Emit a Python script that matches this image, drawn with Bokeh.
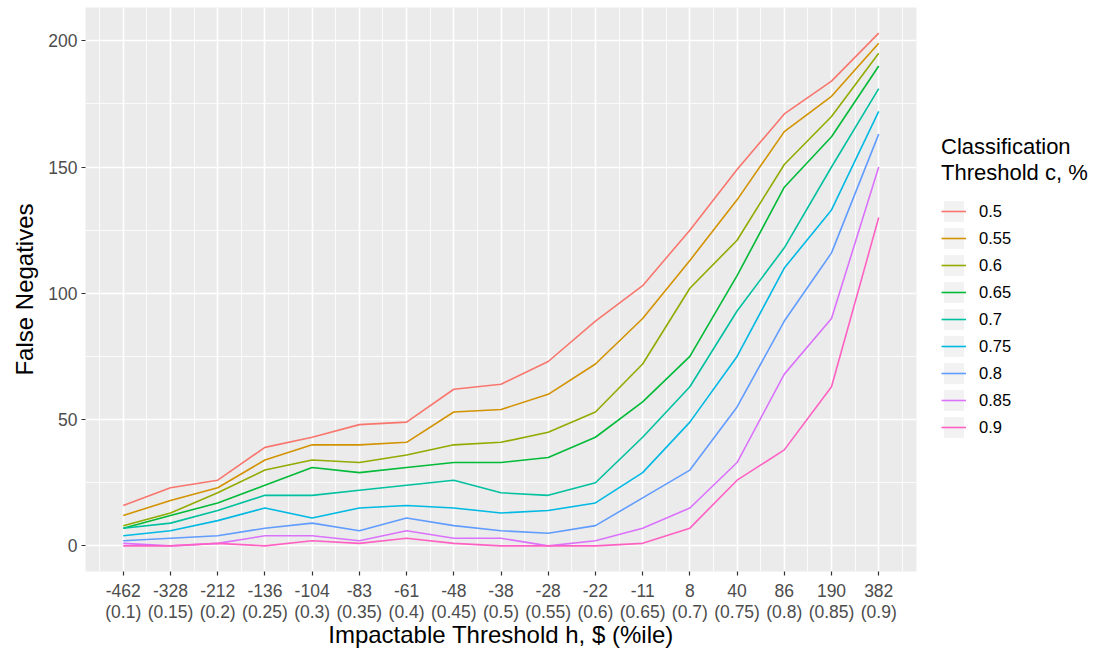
from bokeh.plotting import figure
from bokeh.models import Range1d, FixedTicker, Legend, LegendItem, ColumnDataSource
from bokeh.embed import file_html
from bokeh.resources import INLINE

# ---- data ----
h_labels = ["-462", "-328", "-212", "-136", "-104", "-83", "-61", "-48", "-38",
            "-28", "-22", "-11", "8", "40", "86", "190", "382"]
pct_labels = ["0.1", "0.15", "0.2", "0.25", "0.3", "0.35", "0.4", "0.45", "0.5",
              "0.55", "0.6", "0.65", "0.7", "0.75", "0.8", "0.85", "0.9"]
c_levels = ["0.5", "0.55", "0.6", "0.65", "0.7", "0.75", "0.8", "0.85", "0.9"]

fn_050 = [16, 23, 26, 39, 43, 48, 49, 62, 64, 73, 89, 103, 125, 149, 171, 184, 203]
fn_055 = [12, 18, 23, 34, 40, 40, 41, 53, 54, 60, 72, 90, 113, 137, 164, 178, 199]
fn_060 = [8, 13, 21, 30, 34, 33, 36, 40, 41, 45, 53, 72, 102, 121, 151, 170, 195]
fn_065 = [7, 12, 17, 24, 31, 29, 31, 33, 33, 35, 43, 57, 75, 107, 142, 162, 190]
fn_070 = [7, 9, 14, 20, 20, 22, 24, 26, 21, 20, 25, 43, 63, 93, 118, 150, 181]
fn_075 = [4, 6, 10, 15, 11, 15, 16, 15, 13, 14, 17, 29, 49, 75, 110, 133, 172]
fn_080 = [2, 3, 4, 7, 9, 6, 11, 8, 6, 5, 8, 19, 30, 55, 89, 116, 163]
fn_085 = [1, 0, 1, 4, 4, 2, 6, 3, 3, 0, 2, 7, 15, 33, 68, 90, 150]
fn_090 = [0, 0, 1, 0, 2, 1, 3, 1, 0, 0, 0, 1, 7, 26, 38, 63, 130]
series = [fn_050, fn_055, fn_060, fn_065, fn_070, fn_075, fn_080, fn_085, fn_090]

colors = ["#F8766D", "#D39200", "#93AA00", "#00BA38", "#00C19F",
          "#00B9E3", "#619CFF", "#DB72FB", "#FF61C3"]

# ---- scales (ggplot-like 5% expansion) ----
xs = list(range(1, len(h_labels) + 1))
xpad = 0.05 * (xs[-1] - xs[0])
ymax = max(max(s) for s in series)
ymin = min(min(s) for s in series)
ypad = 0.05 * (ymax - ymin)

FONT = "Liberation Sans"

p = figure(frame_width=831, frame_height=564, output_backend="svg", toolbar_location=None,
           x_range=Range1d(xs[0] - xpad, xs[-1] + xpad),
           y_range=Range1d(ymin - ypad, ymax + ypad),
           min_border_left=85, min_border_right=192, min_border_top=7,
           min_border_bottom=84)

p.background_fill_color = "#EBEBEB"
p.border_fill_color = "white"
p.outline_line_color = None

# ticks & grid
p.xaxis.ticker = FixedTicker(ticks=xs, minor_ticks=[x - 0.5 for x in xs] + [xs[-1] + 0.5])
p.yaxis.ticker = FixedTicker(ticks=[0, 50, 100, 150, 200], minor_ticks=[25, 75, 125, 175])
p.xaxis.major_label_overrides = {x: f"{h}\n({c})" for x, h, c in zip(xs, h_labels, pct_labels)}

for g in (p.xgrid, p.ygrid):
    g.grid_line_color = "white"
    g.grid_line_width = 1.6
    g.minor_grid_line_color = "white"
    g.minor_grid_line_width = 0.8

for ax in (p.xaxis, p.yaxis):
    ax.axis_line_color = None
    ax.major_tick_line_color = "#333333"
    ax.major_tick_line_width = 1.2
    ax.major_tick_in = 0
    ax.major_tick_out = 4
    ax.minor_tick_line_color = None
    ax.major_label_text_font = FONT
    ax.major_label_text_font_size = "17.5px"
    ax.major_label_text_color = "#4D4D4D"
    ax.axis_label_text_font = FONT
    ax.axis_label_text_font_size = "24px"
    ax.axis_label_text_font_style = "normal"
    ax.axis_label_text_color = "black"

p.xaxis.major_label_text_line_height = 1.05
p.xaxis.axis_label = "Impactable Threshold h, $ (%ile)"
p.yaxis.axis_label = "False Negatives"
p.xaxis.major_label_standoff = 5
p.yaxis.major_label_standoff = 4
p.xaxis.axis_label_standoff = -4
p.yaxis.axis_label_standoff = 7

# lines + legend
nan = float("nan")
items = []
for lvl, vals, col in zip(c_levels, series, colors):
    key = p.rect(x=[nan], y=[nan], width=1, height=1, fill_color="#F2F2F2", line_color=None)
    src = ColumnDataSource(dict(x=xs, y=vals))
    r = p.line("x", "y", source=src, line_color=col, line_width=1.6)
    items.append(LegendItem(label=lvl, renderers=[key, r]))

legend = Legend(items=items, location=(25, 131))
legend.title = "Classification\nThreshold c, %"
legend.title_text_font = FONT
legend.title_text_font_size = "22px"
legend.title_text_font_style = "normal"
legend.title_text_color = "black"
legend.title_standoff = 12
legend.label_text_font = FONT
legend.label_text_font_size = "16.5px"
legend.label_text_color = "black"
legend.glyph_width = 25
legend.glyph_height = 26
legend.label_height = 26
legend.spacing = 1
legend.label_standoff = 13
legend.padding = 4
legend.margin = 0
legend.background_fill_color = "white"
legend.border_line_color = None
p.add_layout(legend, "right")

open("out.html", "w").write(file_html(p, INLINE))
